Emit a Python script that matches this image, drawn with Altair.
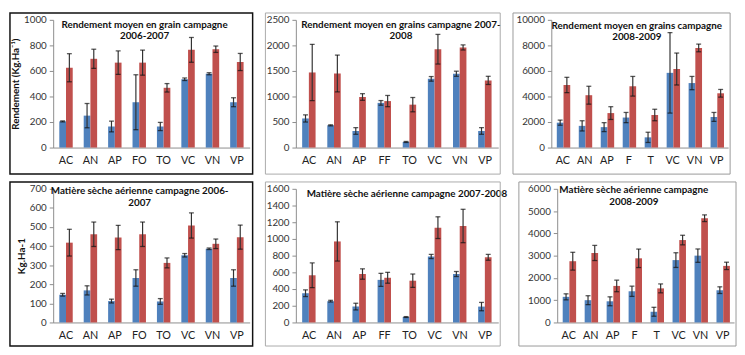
import altair as alt
import pandas as pd

SERIES = ["s1", "s2"]
COLORS = ["#4F81BD", "#C0504D"]

cats_a = ["AC", "AN", "AP", "FO", "TO", "VC", "VN", "VP"]
cats_b = ["AC", "AN", "AP", "FF", "TO", "VC", "VN", "VP"]
cats_c = ["AC", "AN", "AP", "F", "T", "VC", "VN", "VP"]

# Rendement 2006-2007
p1_blue = [205, 250, 165, 355, 165, 535, 578, 355]
p1_blue_err = [4, 95, 42, 215, 32, 10, 8, 35]
p1_red = [625, 695, 665, 665, 468, 765, 770, 670]
p1_red_err = [110, 75, 92, 98, 33, 97, 25, 67]

# Rendement 2007-2008
p2_blue = [570, 435, 325, 875, 110, 1345, 1445, 325]
p2_blue_err = [70, 10, 65, 45, 10, 45, 50, 65]
p2_red = [1470, 1450, 990, 910, 840, 1925, 1960, 1315]
p2_red_err = [550, 360, 65, 110, 140, 290, 50, 80]

# Rendement 2008-2009
p3_blue = [1950, 1700, 1600, 2350, 800, 5850, 5050, 2400]
p3_blue_err = [200, 400, 350, 400, 400, 3150, 520, 350]
p3_red = [4900, 4100, 2700, 4800, 2550, 6150, 7800, 4250]
p3_red_err = [600, 700, 500, 770, 450, 1250, 300, 300]

# Matiere seche 2006-2007
p4_blue = [145, 168, 112, 233, 110, 352, 386, 233]
p4_blue_err = [7, 24, 10, 43, 15, 9, 4, 43]
p4_red = [418, 462, 445, 462, 312, 508, 412, 447]
p4_red_err = [70, 64, 64, 64, 26, 66, 25, 63]

# Matiere seche 2007-2008
p5_blue = [350, 255, 190, 510, 65, 790, 580, 190]
p5_blue_err = [40, 10, 40, 78, 5, 25, 30, 50]
p5_red = [565, 970, 580, 535, 500, 1135, 1155, 780]
p5_red_err = [148, 235, 62, 65, 80, 130, 200, 35]

# Matiere seche 2008-2009
p6_blue = [1150, 1000, 950, 1400, 480, 2800, 3000, 1450]
p6_blue_err = [135, 200, 200, 230, 200, 330, 300, 150]
p6_red = [2750, 3120, 1640, 2880, 1530, 3700, 4680, 2540]
p6_red_err = [400, 340, 260, 415, 200, 215, 150, 165]

titles = [
    "Rendement moyen en grain campagne\n2006-2007",
    "Rendement moyen en grains campagne 2007-\n2008",
    "Rendement moyen en grains campagne\n2008-2009",
    "Matière sèche aérienne campagne 2006-\n2007",
    "Matière sèche aérienne campagne 2007-2008",
    "Matière sèche aérienne campagne\n2008-2009",
]
ytitles = ["Rendement (Kg.Ha⁻¹)", "", "", "Kg.Ha-1", "", ""]

FONT = "Lato"


def panel(cats, b, be, r, re, ymax, ystep, title, ytitle, w, h,
          fl, ft, fr, fb, fcolor, fwidth, tdx, ty):
    rows = []
    for i, c in enumerate(cats):
        rows.append(dict(cat=c, s="s1", v=b[i], e=be[i]))
        rows.append(dict(cat=c, s="s2", v=r[i], e=re[i]))
    df = pd.DataFrame(rows)

    x = alt.X("cat:N", sort=cats, title=None,
              scale=alt.Scale(paddingInner=0.45, paddingOuter=0.25),
              axis=alt.Axis(labelAngle=0, ticks=False, domainColor="#8c8c8c",
                            labelFontSize=11, labelPadding=7, labelColor="#222",
                            labelFont=FONT))
    xo = alt.XOffset("s:N", sort=SERIES, scale=alt.Scale(paddingInner=0, paddingOuter=0))
    yaxis = alt.Axis(values=list(range(0, ymax + 1, ystep)), grid=False, format="d",
                     tickSize=4, tickColor="#8c8c8c", domainColor="#8c8c8c",
                     labelFontSize=10, labelColor="#333", labelFont=FONT,
                     labelPadding=3, titleFont=FONT, titleFontSize=10,
                     titleFontWeight="bold", titleColor="#111", titlePadding=3)
    yscale = alt.Scale(domain=[0, ymax], nice=False)
    yt = ytitle if ytitle else None

    base = alt.Chart(df).transform_calculate(
        lo="datum.v - datum.e", hi="datum.v + datum.e")

    bars = base.mark_bar().encode(
        x=x, xOffset=xo,
        y=alt.Y("v:Q", scale=yscale, axis=yaxis, title=yt),
        color=alt.Color("s:N", scale=alt.Scale(domain=SERIES, range=COLORS), legend=None),
    )
    rule = base.mark_rule(color="#333", strokeWidth=1.2).encode(
        x=x, xOffset=xo,
        y=alt.Y("lo:Q", scale=yscale, axis=yaxis, title=yt), y2="hi:Q")
    cap_lo = base.mark_tick(color="#111", thickness=1.3, size=5).encode(
        x=x, xOffset=xo, y=alt.Y("lo:Q", scale=yscale, axis=yaxis, title=yt))
    cap_hi = base.mark_tick(color="#111", thickness=1.3, size=5).encode(
        x=x, xOffset=xo, y=alt.Y("hi:Q", scale=yscale, axis=yaxis, title=yt))

    one = alt.Data(values=[{}])
    frame = alt.Chart(one).mark_rect(fillOpacity=0, stroke=fcolor, strokeWidth=fwidth).encode(
        x=alt.value(-fl), x2=alt.value(w + fr), y=alt.value(-ft), y2=alt.value(h + fb))
    ttl = alt.Chart(one).mark_text(
        text=title, lineBreak="\n", font=FONT, fontSize=10, fontWeight="bold",
        baseline="top", align="center", lineHeight=12, color="#111").encode(
        x=alt.value(w / 2 + tdx), y=alt.value(ty))

    return alt.layer(bars, rule, cap_lo, cap_hi, ttl, frame).properties(width=w, height=h)


W1, W2, W3 = 200, 206, 180
H1, H2 = 130, 136

p1 = panel(cats_a, p1_blue, p1_blue_err, p1_red, p1_red_err, 1000, 200, titles[0], ytitles[0],
           W1, H1, 44, 7, 3, 27, "#111", 1.5, -7, 0)
p2 = panel(cats_b, p2_blue, p2_blue_err, p2_red, p2_red_err, 2500, 500, titles[1], ytitles[1],
           W2, H1, 31, 7, 2, 27, "#aaa", 1, 4, 0)
p3 = panel(cats_c, p3_blue, p3_blue_err, p3_red, p3_red_err, 10000, 2000, titles[2], ytitles[2],
           W3, H1, 39, 7, 2, 27, "#999", 1, -3, 1)
p4 = panel(cats_a, p4_blue, p4_blue_err, p4_red, p4_red_err, 700, 100, titles[3], ytitles[3],
           W1, H2, 44, 7, 3, 24, "#111", 1.5, -12, -3)
p5 = panel(cats_b, p5_blue, p5_blue_err, p5_red, p5_red_err, 1600, 200, titles[4], ytitles[4],
           W2, H2, 31, 7, 2, 24, "#aaa", 1, 10, 0)
p6 = panel(cats_c, p6_blue, p6_blue_err, p6_red, p6_red_err, 6000, 1000, titles[5], ytitles[5],
           W3, H2, 39, 7, 2, 24, "#999", 1, -12, -4)

row1 = alt.hconcat(p1, p2, p3, spacing=10)
row2 = alt.hconcat(p4, p5, p6, spacing=10)
chart = alt.vconcat(row1, row2, spacing=4).properties(
    padding=0, background="white"
).configure_view(stroke="transparent")

chart.save("out.html", embed_options={"renderer": "svg", "actions": False})
